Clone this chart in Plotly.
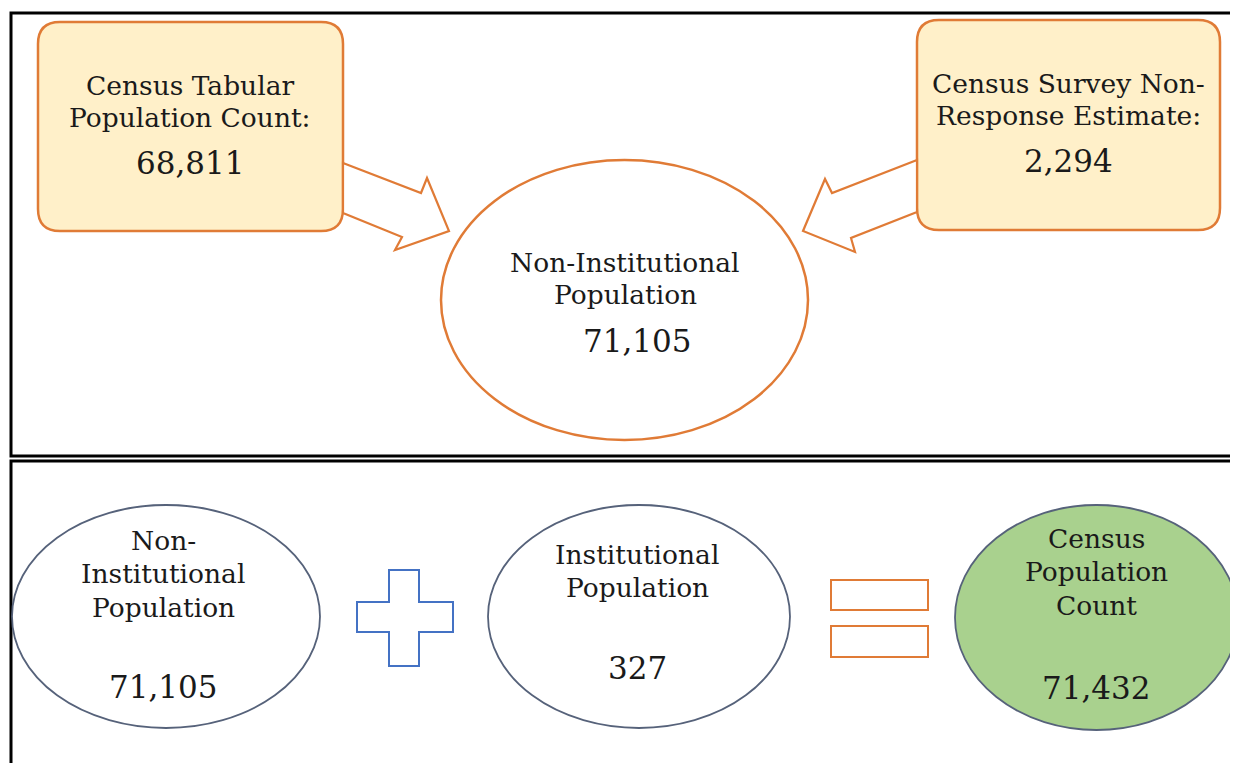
import plotly.graph_objects as go

# ---- content ----
source_labels = [["Census Tabular", "Population Count:"], ["Census Survey Non-", "Response Estimate:"]]
source_values = ["68,811", "2,294"]
center_label = ["Non-Institutional", "Population"]
center_value = "71,105"
bottom_labels = [["Non-", "Institutional", "Population"], ["Institutional", "Population"], ["Census", "Population", "Count"]]
bottom_values = ["71,105", "327", "71,432"]

W, H = 1238, 763
OFF = 8  # page margin compensation
ORANGE = "#E07B36"
BOXFILL = "#FFF0C9"
BLUE = "#4472C4"
EDGE = "#56627A"
GREEN = "#A9D18E"
FONT = "DejaVu Serif"
TXT = "#1a1a1a"
LS = 26.5
VS = 31

fig = go.Figure()
shapes = []
ann = []

def rrect(x0, y0, x1, y1, r):
    return (f"M{x0+r},{y0} L{x1-r},{y0} Q{x1},{y0} {x1},{y0+r} L{x1},{y1-r} Q{x1},{y1} {x1-r},{y1} "
            f"L{x0+r},{y1} Q{x0},{y1} {x0},{y1-r} L{x0},{y0+r} Q{x0},{y0} {x0+r},{y0} Z")

def poly(pts):
    return "M" + " L".join(f"{x},{y}" for x, y in pts) + " Z"

def text(x, y, s, size):
    ann.append(dict(x=x, y=y, xref="x", yref="y", text=s, showarrow=False,
                    font=dict(family=FONT, size=size, color=TXT), xanchor="center", yanchor="middle"))

# frames
shapes.append(dict(type="rect", x0=11, y0=13, x1=1260, y1=456, line=dict(color="black", width=3)))
shapes.append(dict(type="rect", x0=11, y0=461, x1=1260, y1=800, line=dict(color="black", width=3)))

# source boxes
boxes = [(38, 22, 343, 231), (917, 20, 1220, 230)]
for (x0, y0, x1, y1), lines, val, cx in zip(boxes, source_labels, source_values, [190, 1068]):
    shapes.append(dict(type="path", path=rrect(x0, y0, x1, y1, 22), fillcolor=BOXFILL,
                       line=dict(color=ORANGE, width=2.5)))
    for i, s in enumerate(lines):
        text(cx, y0 + 63 + 32 * i, s, LS)
    text(cx, y0 + 141, val, VS)

# arrows
left_arrow = [(343, 163), (421, 193), (427, 178), (449, 231), (395, 250), (402, 237), (343, 213)]
right_arrow = [(917, 160), (832, 193), (825, 179), (803, 231), (855, 252), (851, 238), (917, 212)]
for a in (left_arrow, right_arrow):
    shapes.append(dict(type="path", path=poly(a), fillcolor="white", line=dict(color=ORANGE, width=2.2)))

# center ellipse
shapes.append(dict(type="circle", x0=441, y0=160, x1=808, y1=440, fillcolor="white",
                   line=dict(color=ORANGE, width=2.5)))
for i, s in enumerate(center_label):
    text(625, 262 + 32 * i, s, LS)
text(637, 341, center_value, VS)

# bottom ellipses
ells = [(12, 505, 320, 728), (488, 505, 790, 728), (955, 505, 1238, 730)]
fills = ["white", "white", GREEN]
label_y0 = [540, 554, 538]
value_y = [687, 668, 688]
label_x = [163, 637, 1096]
for (x0, y0, x1, y1), f, lines, val, ly, vy, lx in zip(ells, fills, bottom_labels, bottom_values, label_y0, value_y, label_x):
    shapes.append(dict(type="circle", x0=x0, y0=y0, x1=x1, y1=y1, fillcolor=f, line=dict(color=EDGE, width=1.8)))
    for i, s in enumerate(lines):
        text(lx, ly + 33.5 * i, s, LS)
    text(lx, vy, val, VS)

# plus sign
plus = [(389, 570), (419, 570), (419, 602), (453, 602), (453, 632), (419, 632), (419, 666),
        (389, 666), (389, 632), (357, 632), (357, 602), (389, 602)]
shapes.append(dict(type="path", path=poly(plus), fillcolor="white", line=dict(color=BLUE, width=2)))

# equals sign
for (y0, y1) in [(580, 610), (626, 657)]:
    shapes.append(dict(type="rect", x0=831, y0=y0, x1=928, y1=y1, fillcolor="white",
                       line=dict(color=ORANGE, width=2)))

fig.update_layout(
    width=W, height=H, margin=dict(l=0, r=0, t=0, b=0),
    paper_bgcolor="white", plot_bgcolor="white",
    xaxis=dict(range=[OFF, OFF + W], visible=False, fixedrange=True),
    yaxis=dict(range=[OFF + H, OFF], visible=False, fixedrange=True),
    shapes=shapes, annotations=ann, showlegend=False,
)
fig.write_html("out.html")
